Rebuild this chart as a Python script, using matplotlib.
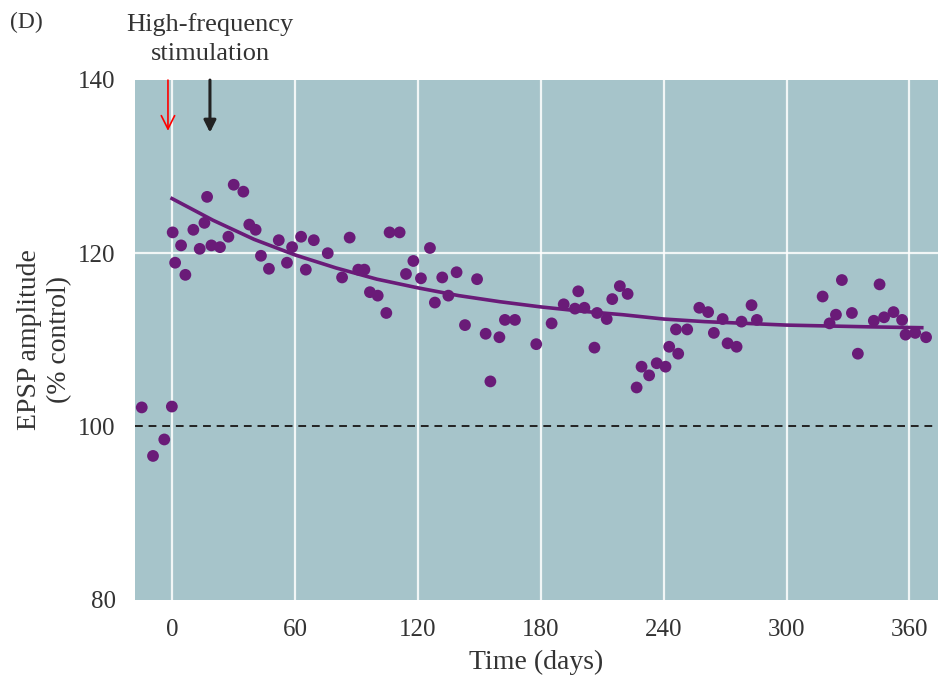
import numpy as np
from matplotlib import pyplot as plt

# EPSP amplitude (% control)
days = [-14.8, -9.3, -3.8, -0.1,
        0.3, 1.5, 4.4, 6.5, 10.4, 13.5, 15.8, 17.1, 19.2, 23.4, 27.5, 30.1, 34.8, 37.7,
        40.8, 43.4, 47.3, 52.1, 56.1, 58.6, 63.0, 65.3, 69.2, 76.0, 83.0, 86.7, 90.9,
        93.9, 96.6, 100.4, 104.6, 106.2, 111.1, 114.2, 117.8, 121.5, 125.9, 128.3,
        131.9, 134.9, 138.9, 143.0, 148.9, 153.1, 155.4, 159.8, 162.5, 167.4, 177.8,
        185.3, 191.2, 196.7, 198.3, 201.3, 206.2, 207.5, 212.2, 214.9, 218.6, 222.4,
        226.8, 229.2, 232.9, 236.6, 240.9, 242.7, 246.0, 247.1, 251.5, 257.4, 261.7,
        264.5, 268.8, 271.2, 275.6, 278.0, 282.9, 285.5, 317.6, 321.0, 324.1, 327.0,
        331.9, 334.8, 342.6, 345.4, 347.6, 352.2, 356.4, 358.1, 362.8, 368.1]
amplitude = [102.2, 96.6, 98.5, 102.3,
             122.4, 118.9, 120.9, 117.5, 122.7, 120.5, 123.5, 126.5, 120.9, 120.7, 121.9, 127.9, 127.1, 123.3,
             122.7, 119.7, 118.2, 121.5, 118.9, 120.7, 121.9, 118.1, 121.5, 120.0, 117.2, 121.8, 118.1,
             118.1, 115.5, 115.1, 113.1, 122.4, 122.4, 117.6, 119.1, 117.1, 120.6, 114.3,
             117.2, 115.1, 117.8, 111.7, 117.0, 110.7, 105.2, 110.3, 112.3, 112.3, 109.5,
             111.9, 114.1, 113.6, 115.6, 113.7, 109.1, 113.1, 112.4, 114.7, 116.2, 115.3,
             104.5, 106.9, 105.9, 107.3, 106.9, 109.2, 111.2, 108.4, 111.2, 113.7, 113.2,
             110.8, 112.4, 109.6, 109.2, 112.1, 114.0, 112.3, 115.0, 111.9, 112.9, 116.9,
             113.1, 108.4, 112.2, 116.4, 112.6, 113.2, 112.3, 110.6, 110.8, 110.3]

# fitted curve
fit_days = [0, 20, 40, 60, 80, 100, 120, 140, 160, 180, 200, 220, 240, 260, 280, 300, 320, 340, 366]
fit_vals = [126.3, 123.8, 121.6, 119.8, 118.3, 117.0, 116.0, 115.1, 114.4, 113.8, 113.3, 112.9,
            112.4, 112.1, 111.9, 111.7, 111.6, 111.5, 111.4]

xticks = [0, 60, 120, 180, 240, 300, 360]
yticks = [80, 100, 120, 140]

plt.rcParams['font.family'] = ['Liberation Serif', 'DejaVu Serif']

purple = '#6a1b78'
txt = '#333333'
fig = plt.figure(figsize=(9.4, 6.8), dpi=100)
ax = fig.add_axes([0.1436, 0.118, 0.854, 0.7645])
ax.set_facecolor('#a6c4ca')

ax.set_xlim(-18.1, 373.8)
ax.set_ylim(80, 140)
ax.set_xticks(xticks)
ax.set_yticks(yticks)
ax.tick_params(length=0, labelsize=18, colors=txt)
ax.tick_params(axis='y', pad=14)
ax.tick_params(axis='x', pad=14)
for s in ax.spines.values():
    s.set_visible(False)

# white grid
for x in xticks:
    ax.axvline(x, color='white', lw=1.6, alpha=0.85, zorder=1)
ax.axhline(120, color='white', lw=1.6, alpha=0.85, zorder=1)
ax.axhline(100, color='#222222', lw=1.4, ls=(0, (4, 3)), zorder=2)

ax.plot(fit_days, fit_vals, color=purple, lw=2.6, zorder=3)
ax.scatter(days, amplitude, s=72, color=purple, zorder=4, edgecolors='none')

ax.set_xlabel('Time (days)', fontsize=20, color=txt, labelpad=6)
ax.set_ylabel('EPSP amplitude\n(% control)', fontsize=20, color=txt, linespacing=1.3)
ax.yaxis.set_label_coords(-0.078, 0.5)

# arrows
ax.annotate('', xy=(-2.0, 133.8), xytext=(-2.0, 140.3), annotation_clip=False,
            arrowprops=dict(arrowstyle='->', color='red', lw=1.2, mutation_scale=24))
ax.annotate('', xy=(18.5, 133.6), xytext=(18.5, 140.3), annotation_clip=False,
            arrowprops=dict(arrowstyle='-|>', color='#222222', lw=2.2, mutation_scale=18))

fig.text(210/940, 1 - 39/680, 'High-frequency\nstimulation', ha='center', va='center',
         fontsize=19, color=txt, linespacing=1.4)
fig.text(10/940, 1 - 22/680, '(D)', ha='left', va='center', fontsize=17, color=txt)

plt.savefig('out.png', dpi=100)
